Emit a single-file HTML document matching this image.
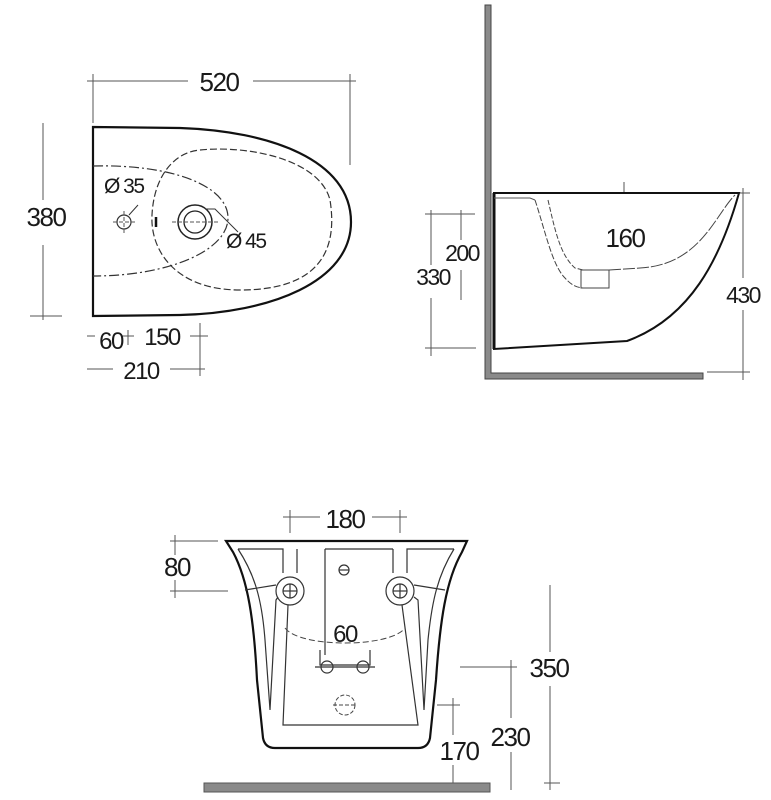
<!DOCTYPE html>
<html><head><meta charset="utf-8"><style>
html,body{margin:0;padding:0;background:#fff;}
svg{display:block;}
text{font-family:"Liberation Sans",Arial,sans-serif;fill:#1a1a1a;letter-spacing:-1.5px;}
</style></head><body>
<svg width="771" height="800" viewBox="0 0 771 800" xmlns="http://www.w3.org/2000/svg">
<g fill="none" stroke="#555" stroke-width="1">
<line x1="87" y1="81" x2="188" y2="81"/><line x1="253" y1="81" x2="356" y2="81"/>
<line x1="93" y1="74" x2="93" y2="123"/><line x1="350" y1="74" x2="350" y2="165"/>
<line x1="43" y1="123" x2="43" y2="200"/><line x1="43" y1="245" x2="43" y2="320"/>
<line x1="30" y1="316" x2="62" y2="316"/>
<line x1="87" y1="336" x2="95" y2="336"/><line x1="122" y1="336" x2="134" y2="336"/><line x1="190" y1="336" x2="208" y2="336"/>
<line x1="128" y1="330" x2="128" y2="345"/>
<line x1="87" y1="369" x2="113" y2="369"/><line x1="170" y1="369" x2="205" y2="369"/>
<line x1="200" y1="323" x2="200" y2="376"/>
<line x1="431" y1="210" x2="431" y2="265"/><line x1="431" y1="298" x2="431" y2="356"/>
<line x1="425" y1="214" x2="475" y2="214"/><line x1="425" y1="348" x2="476" y2="348"/>
<line x1="461" y1="210" x2="461" y2="240"/><line x1="461" y1="270" x2="461" y2="300"/>
<line x1="624" y1="182" x2="624" y2="225"/><line x1="624" y1="255" x2="624" y2="280"/>
<line x1="743" y1="188" x2="743" y2="278"/><line x1="743" y1="310" x2="743" y2="380"/>
<line x1="735" y1="193" x2="750" y2="193"/><line x1="707" y1="372" x2="750" y2="372"/>
<line x1="283" y1="517" x2="320" y2="517"/><line x1="372" y1="517" x2="407" y2="517"/>
<line x1="290" y1="510" x2="290" y2="533"/><line x1="400" y1="510" x2="400" y2="533"/>
<line x1="170" y1="541" x2="218" y2="541"/><line x1="170" y1="591" x2="228" y2="591"/>
<line x1="175" y1="535" x2="175" y2="555"/><line x1="175" y1="580" x2="175" y2="598"/>
<line x1="550" y1="585" x2="550" y2="652"/><line x1="550" y1="686" x2="550" y2="790"/>
<line x1="544" y1="783" x2="560" y2="783"/>
<line x1="460" y1="667" x2="517" y2="667"/>
<line x1="511" y1="660" x2="511" y2="718"/><line x1="511" y1="752" x2="511" y2="790"/>
<line x1="437" y1="705" x2="460" y2="705"/>
<line x1="453" y1="698" x2="453" y2="735"/><line x1="453" y1="765" x2="453" y2="790"/>
</g>
<path d="M93,127 L180,128 C270,131 351,160 351,222 C351,282 270,313 180,315 L93,316 Z" fill="none" stroke="#111" stroke-width="2.2"/>
<path d="M200,150 C250,145 320,160 330,200 C338,250 320,290 240,290 C175,290 150,250 152,215 C154,175 175,152 200,150 Z" fill="none" stroke="#333" stroke-width="1.2" stroke-dasharray="7,3"/>
<path d="M93,166 C170,164 228,185 228,218 C228,250 170,276 93,276" fill="none" stroke="#333" stroke-width="1.2" stroke-dasharray="10,3,2,3"/>
<circle cx="124" cy="222" r="7" fill="none" stroke="#333" stroke-width="1.2"/>
<line x1="113" y1="222" x2="136" y2="222" stroke="#555" stroke-dasharray="4,2"/><line x1="124" y1="211" x2="124" y2="234" stroke="#555" stroke-dasharray="4,2"/>
<circle cx="195" cy="222" r="17" fill="none" stroke="#222" stroke-width="1.5"/>
<circle cx="195" cy="222" r="11" fill="none" stroke="#222" stroke-width="1.3"/>
<line x1="172" y1="222" x2="218" y2="222" stroke="#555" stroke-dasharray="4,2"/>
<line x1="156" y1="217" x2="156" y2="227" stroke="#111" stroke-width="2.5"/>
<polyline points="129,215 138,205" fill="none" stroke="#333"/>
<polyline points="205,209 215,209 238,232" fill="none" stroke="#333"/>
<text x="104" y="193" font-size="21">Ø 35</text>
<text x="226" y="248" font-size="21">Ø 45</text>
<text x="219" y="91" font-size="26" text-anchor="middle">520</text>
<text x="46" y="226" font-size="26" text-anchor="middle">380</text>
<text x="111" y="349" font-size="24" text-anchor="middle">60</text>
<text x="162" y="345" font-size="24" text-anchor="middle">150</text>
<text x="141" y="379" font-size="24" text-anchor="middle">210</text>
<path d="M485,5 L485,379 L703,379 L703,373 L491,373 L491,5 Z" fill="#8a8a8a" stroke="#444" stroke-width="1"/>
<path d="M494,193 L739,193 C720,260 690,318 627,341 L494,349 Z" fill="#fff" stroke="#111" stroke-width="2"/>
<line x1="494" y1="193" x2="494" y2="349" stroke="#111" stroke-width="3"/>
<polyline points="494,198 530,198 535,200" fill="none" stroke="#555"/>
<path d="M535,200 C545,230 552,265 565,278 C572,286 578,288 585,288" fill="none" stroke="#444" stroke-width="1" stroke-dasharray="6,2"/>
<path d="M548,200 C555,230 560,255 575,268 L583,270" fill="none" stroke="#444" stroke-width="1" stroke-dasharray="5,2"/>
<rect x="581" y="270" width="28" height="18" fill="none" stroke="#444"/>
<path d="M609,270 L640,268 C700,265 715,215 735,195" fill="none" stroke="#444" stroke-width="1" stroke-dasharray="12,2"/>
<text x="462" y="261" font-size="23" text-anchor="middle">200</text>
<text x="433" y="285" font-size="23" text-anchor="middle">330</text>
<text x="625" y="247" font-size="26" text-anchor="middle">160</text>
<text x="743" y="303" font-size="23" text-anchor="middle">430</text>
<path d="M226,541 L467,541 L462,552 C446,580 440,620 436,680 L430,738 Q428,748 418,748 L275,748 Q265,748 263,738 L257,680 C254,620 248,580 233,552 Z" fill="#fff" stroke="#111" stroke-width="2.2"/>
<g fill="none" stroke="#333" stroke-width="1.2">
<path d="M238,549 L283,549 L283,573"/><path d="M454,549 L407,549 L407,573"/>
<path d="M238,549 C255,575 262,600 265,640 L270,710 L276,600 L278,597"/>
<path d="M454,549 C438,575 432,600 428,640 L424,710 L418,600 L414,597"/>
<path d="M297,549 L297,573"/><path d="M393,549 L393,573"/>
<circle cx="290" cy="591" r="14"/><circle cx="400" cy="591" r="14"/>
<circle cx="290" cy="591" r="7"/><circle cx="400" cy="591" r="7"/>
<line x1="283" y1="591" x2="297" y2="591"/><line x1="290" y1="584" x2="290" y2="598"/>
<line x1="393" y1="591" x2="407" y2="591"/><line x1="400" y1="584" x2="400" y2="598"/>
<path d="M245,590 L276,585"/><path d="M445,590 L414,585"/>
<path d="M288,605 L283,725 L418,725 L402,605"/>
<path d="M325,549 L325,655"/><path d="M325,549 L393,549"/>
<circle cx="344" cy="570" r="5"/><line x1="339" y1="570" x2="349" y2="570"/>
<circle cx="327" cy="667" r="6"/><circle cx="363" cy="667" r="6"/>
<path d="M320,650 L320,665 L370,665 L370,650"/>
<line x1="315" y1="667" x2="375" y2="667"/>
</g>
<path d="M285,628 C300,648 390,648 405,628" fill="none" stroke="#444" stroke-dasharray="6,3"/>
<circle cx="345" cy="705" r="10" fill="none" stroke="#444" stroke-dasharray="4,2"/>
<line x1="333" y1="705" x2="357" y2="705" stroke="#444" stroke-dasharray="4,2"/>
<rect x="204" y="783" width="286" height="9" fill="#8a8a8a" stroke="#555"/>
<text x="345" y="528" font-size="26" text-anchor="middle">180</text>
<text x="177" y="576" font-size="26" text-anchor="middle">80</text>
<text x="345" y="642" font-size="24" text-anchor="middle">60</text>
<text x="549" y="677" font-size="26" text-anchor="middle">350</text>
<text x="510" y="746" font-size="26" text-anchor="middle">230</text>
<text x="459" y="760" font-size="26" text-anchor="middle">170</text>
</svg>
</body></html>
